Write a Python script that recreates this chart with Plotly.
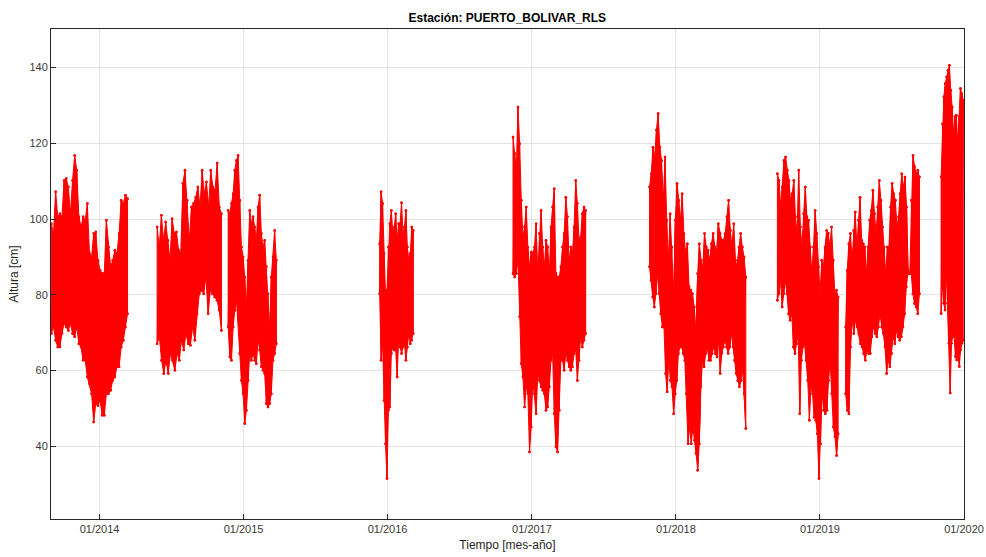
import pandas as pd
import plotly.graph_objects as go

# Segments: (start date, end date) of each recorded interval
seg_dates = [
    ("2013-09-01", "2014-03-13"),
    ("2014-05-27", "2014-11-06"),
    ("2014-11-23", "2015-03-25"),
    ("2015-12-12", "2016-03-06"),
    ("2016-11-14", "2017-05-17"),
    ("2017-10-26", "2018-06-27"),
    ("2018-09-15", "2019-02-16"),
    ("2019-03-07", "2019-09-10"),
    ("2019-11-04", "2019-12-30"),
]

# Upper envelope (local high waters, cm)
upper = [
    [98.8, 96.2, 107.2, 100.6, 101.4, 100.6, 110.2, 110.7, 108.5, 101.4, 110.2, 116.8, 112.9,
     100.6, 97.9, 100.6, 99.7, 104.1, 90.9, 90.0, 96.2, 96.6, 89.1, 86.5, 85.6, 85.6, 99.7,
     92.6, 87.4, 89.1, 91.8, 90.9, 96.2, 105.0, 104.1, 106.3, 105.4],
    [97.9, 92.6, 101.0, 94.4, 99.2, 94.4, 89.1, 100.1, 96.2, 96.6, 91.8, 90.9, 109.4, 112.9,
     105.0, 94.4, 103.2, 104.1, 105.8, 108.5, 103.2, 112.9, 106.7, 109.8, 103.2, 112.9, 108.5,
     107.6, 114.8, 103.2, 101.4],
    [102.3, 101.4, 104.1, 106.7, 112.9, 115.5, 116.8, 105.0, 92.6, 90.0, 84.7, 76.8, 89.1,
     102.3, 98.8, 100.6, 97.9, 94.4, 103.2, 106.3, 96.2, 92.6, 94.4, 87.4, 80.3, 71.5, 84.7,
     90.0, 97.0, 89.1],
    [93.5, 107.2, 104.1, 90.9, 80.3, 81.2, 92.6, 98.8, 102.3, 96.2, 97.9, 101.4, 94.4, 98.8,
     98.8, 104.3, 96.2, 97.9, 102.3, 92.6, 89.1, 90.9, 97.9, 97.0],
    [121.7, 117.3, 112.9, 129.6, 119.9, 105.0, 95.3, 97.9, 103.2, 92.6, 87.4, 91.3, 90.9,
     92.6, 98.8, 85.6, 96.2, 102.3, 92.6, 87.4, 94.4, 92.6, 85.6, 97.9, 103.2, 108.0, 85.6,
     84.7, 84.7, 87.4, 92.6, 96.2, 105.8, 100.6, 89.1, 92.6, 90.9, 97.9, 110.2, 104.1, 94.4,
     95.3, 101.4, 103.2, 102.3],
    [108.5, 112.0, 119.0, 116.4, 123.5, 127.9, 119.0, 115.5, 105.0, 116.4, 99.7, 89.1, 101.4,
     92.6, 80.3, 99.7, 109.4, 105.0, 99.7, 106.7, 96.2, 90.9, 93.5, 82.1, 81.2, 80.3, 76.8,
     69.8, 85.6, 93.5, 89.1, 87.4, 96.2, 92.6, 91.8, 89.1, 93.5, 96.2, 92.6, 90.9, 98.8, 96.2,
     94.4, 94.4, 96.2, 100.6, 105.0, 97.0, 92.6, 98.8, 89.1, 87.4, 92.6, 96.2, 92.6, 90.0, 84.7],
    [112.0, 110.2, 103.2, 108.5, 115.5, 116.4, 112.9, 110.2, 105.0, 106.7, 110.2, 100.6, 96.2,
     112.9, 97.9, 92.6, 101.4, 108.5, 100.6, 99.7, 92.6, 85.6, 92.6, 102.3, 96.2, 87.4, 80.3,
     89.1, 87.4, 92.6, 97.0, 96.2, 92.6, 97.9, 89.1, 80.3, 81.2, 79.4],
    [71.5, 86.5, 93.5, 96.2, 89.1, 97.0, 101.9, 92.6, 99.7, 105.8, 94.4, 93.5, 92.6, 85.6,
     92.6, 99.7, 102.3, 107.6, 101.4, 96.2, 103.2, 110.2, 105.0, 97.9, 92.6, 85.6, 92.6, 92.6,
     103.2, 109.4, 106.7, 105.0, 97.9, 100.6, 106.7, 112.0, 108.5, 111.1, 103.2, 86.5, 85.6,
     105.0, 116.8, 113.8, 112.0, 112.9, 111.1],
    [111.2, 125.2, 132.3, 135.8, 137.5, 139.3, 140.6, 134.0, 129.6, 122.6, 127.0, 127.4, 120.0,
     127.0, 134.5, 133.1, 131.4],
]

# Lower envelope (local low waters, cm)
lower = [
    [69.8, 71.5, 68.0, 66.2, 66.2, 69.8, 72.4, 71.5, 70.6, 72.4, 69.8, 68.9, 71.5, 67.1, 66.2,
     62.7, 62.7, 58.3, 56.5, 53.9, 46.4, 51.3, 50.8, 52.1, 48.2, 48.2, 53.9, 53.9, 54.8, 57.4,
     58.3, 61.0, 61.0, 66.2, 68.0, 71.5, 75.0],
    [67.1, 68.9, 62.7, 59.2, 62.7, 59.2, 64.5, 62.7, 60.1, 64.5, 62.7, 68.0, 65.4, 69.8, 67.1,
     66.7, 71.5, 68.0, 75.0, 80.3, 81.2, 80.3, 84.7, 75.0, 81.2, 80.3, 79.4, 78.6, 75.9, 70.6],
    [71.5, 63.6, 62.7, 71.5, 75.9, 78.6, 74.2, 64.5, 57.4, 53.9, 46.0, 49.5, 57.4, 64.5, 62.7,
     64.5, 62.7, 61.8, 68.0, 65.4, 61.0, 60.1, 59.2, 51.3, 50.4, 51.3, 53.9, 62.7, 64.5, 67.1],
    [80.3, 62.7, 67.1, 52.1, 40.7, 31.5, 49.5, 50.4, 64.5, 66.2, 65.4, 65.4, 58.3, 68.0, 66.2,
     64.5, 66.2, 67.1, 62.7, 66.2, 69.8, 67.1, 68.0, 69.8],
    [85.6, 84.7, 85.6, 89.1, 74.2, 61.8, 58.3, 50.4, 55.7, 53.9, 38.5, 45.1, 57.4, 53.9, 48.6,
     59.2, 57.4, 55.7, 54.8, 53.9, 49.5, 50.4, 55.7, 62.7, 64.5, 48.6, 39.8, 38.5, 49.5, 62.7,
     62.7, 60.1, 64.5, 62.7, 61.0, 60.1, 61.0, 64.5, 65.4, 57.4, 62.7, 68.9, 66.2, 68.0, 69.8],
    [87.4, 83.8, 79.4, 76.8, 80.3, 85.6, 80.3, 75.0, 71.5, 71.5, 59.2, 54.4, 62.7, 57.4, 55.7,
     48.6, 53.9, 57.4, 64.5, 66.2, 66.2, 64.5, 62.7, 53.9, 40.7, 45.1, 40.7, 45.1, 41.6, 38.1,
     33.7, 40.7, 55.7, 62.7, 61.0, 64.5, 66.2, 62.7, 62.7, 64.5, 66.2, 64.5, 63.6, 68.0, 59.2,
     64.5, 66.2, 68.0, 66.2, 64.5, 66.2, 69.8, 66.2, 62.7, 59.2, 57.4, 55.7, 57.4, 61.0, 53.9,
     44.7],
    [78.6, 80.3, 83.8, 76.8, 80.3, 83.8, 80.3, 75.0, 73.3, 75.0, 66.2, 64.5, 67.1, 69.8, 48.6,
     62.7, 66.2, 67.1, 62.7, 57.4, 46.9, 55.7, 53.9, 47.7, 46.9, 43.3, 31.5, 40.7, 53.9, 49.5,
     48.6, 49.5, 57.4, 62.7, 53.9, 45.1, 42.5, 37.6, 43.3],
    [53.9, 49.5, 48.6, 66.2, 73.3, 69.8, 73.3, 71.5, 69.8, 67.1, 66.2, 64.5, 62.7, 65.4, 64.5,
     64.5, 68.9, 71.5, 69.8, 68.9, 71.5, 75.0, 71.5, 69.8, 66.2, 59.2, 62.7, 61.0, 64.5, 68.9,
     67.1, 70.6, 68.9, 68.0, 68.9, 71.5, 75.0, 82.1, 85.6, 85.6, 85.6, 80.3, 77.7, 76.8, 75.0,
     80.3],
    [75.1, 83.0, 77.8, 76.0, 86.6, 77.8, 67.2, 54.1, 67.2, 69.0, 69.0, 63.7, 62.8, 63.7, 61.1,
     65.5, 67.2, 68.0],
]

x_ticks = ["2014-01-01", "2015-01-01", "2016-01-01", "2017-01-01",
           "2018-01-01", "2019-01-01", "2020-01-01"]
x_tick_labels = ["01/2014", "01/2015", "01/2016", "01/2017", "01/2018", "01/2019", "01/2020"]
y_ticks = [40, 60, 80, 100, 120, 140]

# Build one closed band per segment (upper forward, lower backward)
band_x, band_y = [], []
zig_x, zig_y = [], []
for (s, e), up, lo in zip(seg_dates, upper, lower):
    du = pd.date_range(s, e, periods=len(up))
    dl = pd.date_range(s, e, periods=len(lo))
    band_x += list(du) + list(dl[::-1]) + [None]
    band_y += list(up) + list(lo[::-1]) + [None]
    # alternate high/low to mimic the tidal zigzag
    ups = list(zip(du, up))
    los = list(zip(dl, lo))
    n = max(len(ups), len(los))
    for i in range(n):
        if i < len(ups):
            zig_x.append(ups[i][0]); zig_y.append(ups[i][1])
        if i < len(los):
            zig_x.append(los[i][0]); zig_y.append(los[i][1])
    zig_x.append(None); zig_y.append(None)

RED = "#ff0000"
fig = go.Figure()
fig.add_trace(go.Scatter(
    x=band_x, y=band_y, mode="lines+markers", fill="toself",
    fillcolor=RED, line=dict(color=RED, width=1),
    marker=dict(color=RED, size=2.5), hoverinfo="skip", showlegend=False))
fig.add_trace(go.Scatter(
    x=zig_x, y=zig_y, mode="lines+markers",
    line=dict(color=RED, width=1), marker=dict(color=RED, size=2.5),
    showlegend=False))

FONT = "Liberation Sans, Arial, sans-serif"
axis_common = dict(
    showline=True, linecolor="#262626", linewidth=1, mirror=True,
    ticks="inside", ticklen=5, tickcolor="#262626",
    showgrid=True, gridcolor="#e3e3e3", gridwidth=1, zeroline=False,
    automargin=False,
    tickfont=dict(family=FONT, size=11, color="#3a3a3a"),
)

fig.update_layout(
    width=986, height=557,
    margin=dict(l=51, r=22, t=29, b=38, autoexpand=False),
    paper_bgcolor="white", plot_bgcolor="white",
    title=dict(text="<b>Estación: PUERTO_BOLIVAR_RLS</b>", x=0.5145, xanchor="center",
               y=0.968, yanchor="middle",
               font=dict(family=FONT, size=12, color="#000000")),
    xaxis=dict(range=["2013-08-31", "2020-01-01"], tickvals=x_ticks, ticktext=x_tick_labels,
               title=dict(text="Tiempo [mes-año]", standoff=6,
                          font=dict(family=FONT, size=12, color="#262626")),
               **axis_common),
    yaxis=dict(range=[20.8, 150.2], tickvals=y_ticks,
               title=dict(text="Altura [cm]", standoff=8,
                          font=dict(family=FONT, size=12, color="#262626")),
               **axis_common),
)

fig.write_html("out.html")
